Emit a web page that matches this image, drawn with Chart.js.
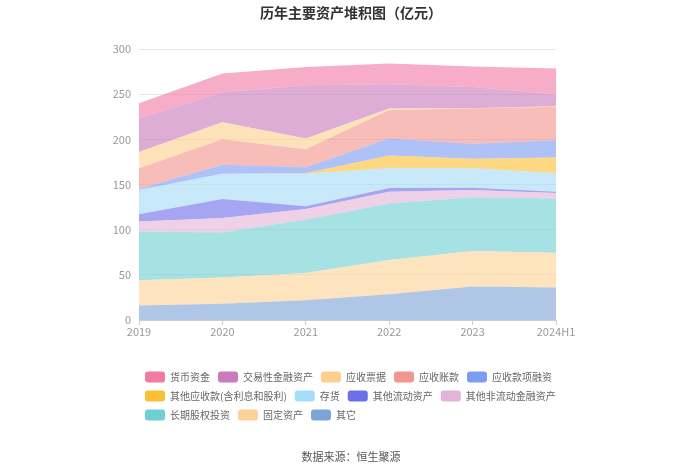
<!DOCTYPE html>
<html>
<head>
<meta charset="utf-8">
<script src="https://cdn.jsdelivr.net/npm/chart.js@4"></script>
<style>
  html, body { margin: 0; padding: 0; background: #fff; }
  #wrap { width: 700px; height: 473px; }
</style>
</head>
<body>
<div id="wrap"><canvas id="myChart" width="700" height="473"></canvas></div>
<script>
'use strict';

// categories
let years = ['2019', '2020', '2021', '2022', '2023', '2024H1'];

// series values (亿元), bottom of the stack first
let qita = [16, 18, 22, 28.5, 37, 36];
let guding = [28, 29, 30, 38, 39.5, 38.5];
let changqi = [54, 50, 59, 62.5, 59.5, 60];
let feiLiudong = [11, 16, 12, 13, 8, 6];
let qitaLiudong = [8, 21, 3, 4, 2.5, 1.5];
let cunhuo = [27, 28, 36, 22, 21.5, 20.5];
let qitaYingshou = [0, 0, 0.5, 14, 10.5, 17.5];
let rongzi = [1, 10, 6.5, 19, 16.5, 19];
let zhangkuan = [23, 28, 20, 31.5, 39, 37];
let piaoju = [18, 19, 12, 1.5, 0.5, 0.5];
let jiaoyi = [37, 33, 59, 27, 23.5, 13.5];
let huobi = [17, 21, 20, 23, 22.5, 28.5];

let yTicks = [0, 50, 100, 150, 200, 250, 300];

let seriesNames = ['其它', '固定资产', '长期股权投资', '其他非流动金融资产', '其他流动资产', '存货',
  '其他应收款(含利息和股利)', '应收款项融资', '应收账款', '应收票据', '交易性金融资产', '货币资金'];
let seriesData = [qita, guding, changqi, feiLiudong, qitaLiudong, cunhuo,
  qitaYingshou, rongzi, zhangkuan, piaoju, jiaoyi, huobi];
let solidColors = ['#7fa3d8', '#fdd298', '#6fcfd3', '#e3b3d8', '#6d6ee8', '#a5dcf7',
  '#fbbf33', '#7d9df2', '#f3958c', '#fdd08f', '#c97bbd', '#f27aa5'];

function fade(hex, alpha) {
  let r = parseInt(hex.slice(1, 3), 16);
  let g = parseInt(hex.slice(3, 5), 16);
  let b = parseInt(hex.slice(5, 7), 16);
  return `rgba(${r},${g},${b},${alpha})`;
}

let datasets = [];
for (let i = 0; i < seriesNames.length; i++) {
  datasets.push({
    label: seriesNames[i],
    data: seriesData[i],
    backgroundColor: fade(solidColors[i], 0.62),
    borderColor: fade(solidColors[i], 0.62),
    borderWidth: 0,
    pointRadius: 0,
    tension: 0,
    fill: i === 0 ? 'origin' : '-1'
  });
}

Chart.defaults.font.family = '"Noto Sans CJK SC", "Noto Sans", sans-serif';

// chart area runs from x=139 to x=556
let padLeft = 137;
let padRight = 135;

const ctx = document.getElementById('myChart');
const config = {
  type: 'line',
  data: {
    labels: years,
    datasets: datasets
  },
  options: {
    responsive: false,
    animation: false,
    layout: {
      padding: { top: 0, left: padLeft, right: padRight, bottom: 0 }
    },
    plugins: {
      title: {
        display: true,
        text: '历年主要资产堆积图（亿元）',
        color: '#333',
        font: { size: 14, weight: 'bold' },
        padding: { top: 4, bottom: 28.2 }
      },
      subtitle: {
        display: true,
        position: 'bottom',
        text: '数据来源：恒生聚源',
        color: '#555',
        font: { size: 11 },
        padding: { top: 19.3, bottom: 10 }
      },
      legend: {
        position: 'bottom',
        align: 'start',
        reverse: true,
        labels: {
          boxWidth: 20,
          boxHeight: 11,
          padding: 8,
          color: '#666',
          font: { size: 10 },
          useBorderRadius: true,
          borderRadius: 3,
          generateLabels: function(chart) {
            let items = Chart.defaults.plugins.legend.labels.generateLabels(chart);
            items.forEach(function(item) {
              item.fillStyle = solidColors[item.datasetIndex];
              item.strokeStyle = solidColors[item.datasetIndex];
              item.lineWidth = 0;
            });
            return items;
          }
        }
      },
      tooltip: { enabled: false }
    },
    scales: {
      x: {
        stacked: true,
        offset: false,
        grid: {
          display: true,
          drawOnChartArea: false,
          drawTicks: true,
          tickLength: 5,
          color: '#c9ced8'
        },
        border: { display: true, color: '#c9ced8' },
        ticks: { color: '#999', font: { size: 11 }, padding: 0, maxRotation: 0 },
        afterFit: function(scale) { scale.height = 43.5; }
      },
      y: {
        stacked: true,
        min: yTicks[0],
        max: yTicks[yTicks.length - 1],
        grid: { color: '#e8e8e8', drawTicks: false },
        border: { display: false },
        ticks: { stepSize: 50, color: '#999', font: { size: 11 }, padding: 8 },
        afterFit: function(scale) {
          scale.width = 139 - padLeft;
          // labels sit left of the narrow axis box, so don't clip them
          scale._computeLabelArea = function() { return undefined; };
        }
      },
      yRight: {
        type: 'linear',
        position: 'right',
        display: true,
        grid: { display: false },
        border: { display: false },
        ticks: { display: false },
        afterFit: function(scale) { scale.width = 700 - padRight - 556; }
      }
    }
  }
};

new Chart(ctx, config);
</script>
</body>
</html>
